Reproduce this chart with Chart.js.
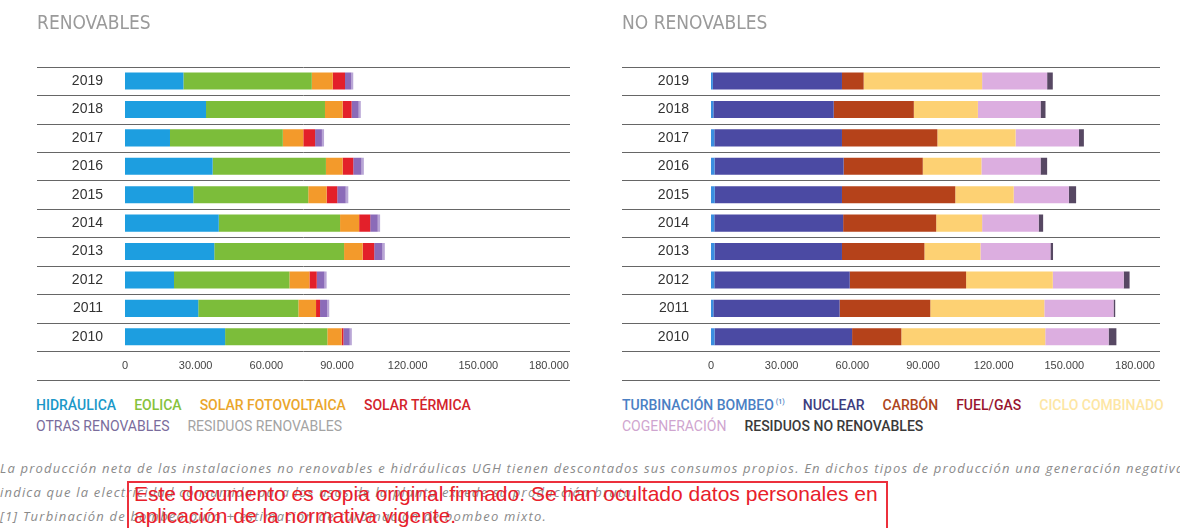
<!DOCTYPE html>
<html lang="es">
<head>
<meta charset="UTF-8">
<title>Producción renovable y no renovable 2010-2019</title>
<script src="https://cdn.jsdelivr.net/npm/chart.js@4.4.0/dist/chart.umd.min.js"></script>
<style>
  body { margin: 0; width: 1180px; height: 528px; overflow: hidden; background: #fff; position: relative; font-family: 'Liberation Sans', Arial, sans-serif; }
  .panel { position: absolute; top: 0; }
  #left { left: 0; }
  #right { left: 590px; }
  .legend { position: absolute; top: 395px; display: flex; flex-wrap: wrap; font-family: Roboto, 'Liberation Sans', sans-serif; font-size: 14px; font-weight: 500; line-height: 21px; }
  .legend span { margin-right: 18px; white-space: nowrap; }
  .legend sup { font-size: 7px; line-height: 0; vertical-align: 6px; margin-left: 2px; }
  #legLeft { left: 36px; width: 534px; }
  #legRight { left: 622px; width: 600px; }
  .notes { position: absolute; left: 0; top: 456px; font-family: 'Open Sans', sans-serif; font-style: italic; font-size: 13px; letter-spacing: 1.2px; color: #8a8a8a; line-height: 24px; white-space: nowrap; }
  .stamp { position: absolute; left: 127px; top: 481px; width: 752px; height: 70px; border: 2px solid rgb(236, 48, 60); padding-left: 5px; color: #e8202a; font-size: 21px; line-height: 22px; }
</style>
</head>
<body>
<canvas id="left" class="panel" width="590" height="390"></canvas>
<canvas id="right" class="panel" width="590" height="390"></canvas>
<div id="legLeft" class="legend"></div>
<div id="legRight" class="legend"></div>
<div class="notes">
  La producción neta de las instalaciones no renovables e hidráulicas UGH tienen descontados sus consumos propios. En dichos tipos de producción una generación negativa<br>
  indica que la electricidad consumida para los usos de la planta excede su producción bruta.<br>
  [1] Turbinación de bombeo puro + estimación de turbinación de bombeo mixto.
</div>
<div class="stamp">Este documento es copia original firmado. Se han ocultado datos personales en<br>aplicación de la normativa vigente.</div>

<script>
// años, de arriba a abajo
const years = ['2019', '2018', '2017', '2016', '2015', '2014', '2013', '2012', '2011', '2010'];
const xTickLabels = ['0', '30.000', '60.000', '90.000', '120.000', '150.000', '180.000'];

// renovables (GWh)
const hidraulica    = [24800, 34400, 19100, 37200, 29000, 39800, 37900, 20800, 31100, 42500];
const eolica        = [54500, 50500, 47900, 48100, 48800, 51500, 55100, 49000, 42500, 43400];
const solarFV       = [8900, 7500, 8700, 7100, 7800, 8100, 7900, 8500, 7500, 6100];
const solarTermica  = [5200, 3800, 5000, 4500, 4500, 4700, 4900, 3100, 1700, 700];
const otrasRenov    = [2700, 3000, 2900, 3500, 3600, 3200, 3500, 3300, 3000, 2700];
const residuosRenov = [800, 900, 900, 1000, 1100, 1000, 1000, 900, 900, 900];

// no renovables (GWh)
const turbinacion     = [800, 1000, 1400, 1500, 1600, 1400, 1500, 1400, 1000, 1500];
const nuclear         = [54800, 51100, 54200, 54800, 54000, 54700, 54100, 57500, 53600, 58400];
const carbon          = [9200, 34000, 40500, 33600, 48100, 39500, 35000, 49400, 38500, 20900];
const fuelGas         = [0, 0, 0, 0, 0, 0, 0, 0, 0, 0];
const cicloCombinado  = [50300, 27200, 33200, 24900, 24800, 19500, 23800, 36800, 48400, 61100];
const cogeneracion    = [27600, 26600, 26900, 25100, 23400, 24000, 29700, 30100, 29400, 26900];
const residuosNoRenov = [2400, 2100, 2100, 2800, 3100, 1900, 1100, 2500, 700, 3300];

const renovables = [
  { name: 'HIDRÁULICA', data: hidraulica, color: '#1d9ee0', text: '#1b98c8' },
  { name: 'EOLICA', data: eolica, color: '#7cbd3a', text: '#86c23c' },
  { name: 'SOLAR FOTOVOLTAICA', data: solarFV, color: '#f39a2b', text: '#eaa62c' },
  { name: 'SOLAR TÉRMICA', data: solarTermica, color: '#e3202a', text: '#d3232c' },
  { name: 'OTRAS RENOVABLES', data: otrasRenov, color: '#8b6bb8', text: '#7a6c9c', light: true },
  { name: 'RESIDUOS RENOVABLES', data: residuosRenov, color: '#b9a6d6', text: '#a3a3a3', light: true }
];
const noRenovables = [
  { name: 'TURBINACIÓN BOMBEO', note: '(1)', data: turbinacion, color: '#3a8ee0', text: '#4a80c4' },
  { name: 'NUCLEAR', data: nuclear, color: '#4b4aa3', text: '#3d3d80' },
  { name: 'CARBÓN', data: carbon, color: '#b5421a', text: '#ad4520' },
  { name: 'FUEL/GAS', data: fuelGas, color: '#9e1b32', text: '#99152f' },
  { name: 'CICLO COMBINADO', data: cicloCombinado, color: '#fdd173', text: '#fde6a4' },
  { name: 'COGENERACIÓN', data: cogeneracion, color: '#dcaee0', text: '#cfa5cf', light: true },
  { name: 'RESIDUOS NO RENOVABLES', data: residuosNoRenov, color: '#574863', text: '#3a3a3a' }
];

// líneas entre filas, desde el borde izquierdo del bloque
const rowLines = {
  id: 'rowLines',
  beforeDatasetsDraw(chart, args, opts) {
    const { ctx, scales: { x, y } } = chart;
    const n = y.ticks.length;
    const step = (y.bottom - y.top) / n;
    ctx.save();
    ctx.strokeStyle = opts.color;
    ctx.lineWidth = 1;
    const hline = yy => {
      ctx.beginPath();
      ctx.moveTo(opts.left, yy);
      ctx.lineTo(opts.right, yy);
      ctx.stroke();
    };
    for (let k = 0; k <= n; k++) hline(Math.round(y.top + k * step) + 0.5);
    hline(Math.round(x.bottom) + 0.5);
    ctx.restore();
  }
};

function makeChart(id, title, series, padLeft, yWidth, padRight) {
  return new Chart(document.getElementById(id), {
    type: 'bar',
    data: {
      labels: years,
      datasets: series.map(s => ({
        label: s.name,
        data: s.data,
        backgroundColor: s.color,
        borderWidth: 0,
        barPercentage: 1,
        categoryPercentage: 0.6
      }))
    },
    options: {
      indexAxis: 'y',
      responsive: false,
      animation: false,
      devicePixelRatio: 1,
      layout: { padding: { left: padLeft, right: padRight, top: 0, bottom: 10 } },
      plugins: {
        legend: { display: false },
        tooltip: { enabled: false },
        title: {
          display: true,
          text: title,
          align: 'start',
          color: '#9a9a9a',
          font: { family: "'Liberation Sans Narrow', 'DejaVu Sans Condensed', sans-serif", size: 19, weight: 'normal' },
          padding: { top: 13, bottom: 31 }
        },
        rowLines: { color: '#666', left: padLeft, right: 570 }
      },
      scales: {
        x: {
          stacked: true,
          min: 0,
          max: 180000,
          grid: { display: false, drawTicks: false },
          border: { display: false },
          ticks: {
            stepSize: 30000,
            autoSkip: false,
            maxRotation: 0,
            padding: 8,
            color: '#444',
            font: { family: "'Liberation Sans', sans-serif", size: 11 },
            callback: (v, i) => xTickLabels[i]
          },
          afterFit: s => { s.height = 29; }
        },
        y: {
          stacked: true,
          grid: { display: false, drawTicks: false },
          border: { display: false },
          ticks: {
            padding: 22,
            color: '#333',
            font: { family: "'Liberation Sans', sans-serif", size: 14 }
          },
          afterFit: s => { s.width = yWidth; }
        }
      }
    },
    plugins: [rowLines]
  });
}

function buildLegend(id, series) {
  const el = document.getElementById(id);
  series.forEach(s => {
    const span = document.createElement('span');
    span.textContent = s.name;
    span.style.color = s.text;
    if (s.light) span.style.fontWeight = 'normal';
    if (s.note) {
      const sup = document.createElement('sup');
      sup.textContent = s.note;
      span.appendChild(sup);
    }
    el.appendChild(span);
  });
}

makeChart('left', 'RENOVABLES', renovables, 37, 88, 41);
makeChart('right', 'NO RENOVABLES', noRenovables, 32, 89, 45);
buildLegend('legLeft', renovables);
buildLegend('legRight', noRenovables);
</script>
</body>
</html>
